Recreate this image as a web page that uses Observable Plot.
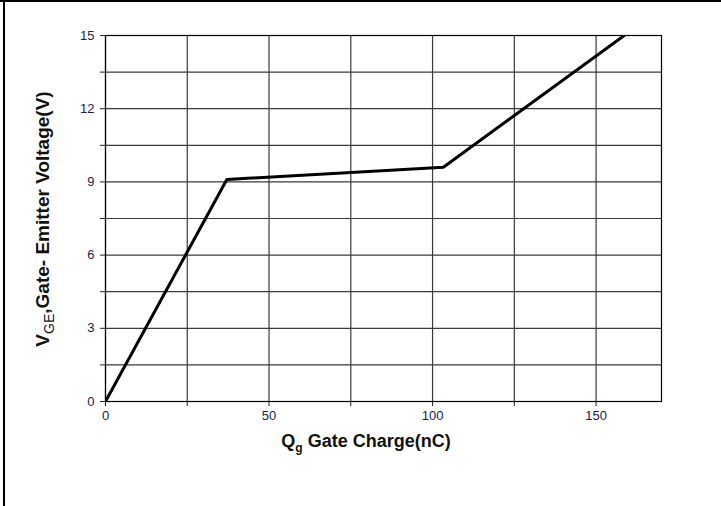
<!DOCTYPE html>
<html>
<head>
<meta charset="utf-8">
<script src="https://cdn.jsdelivr.net/npm/d3@7"></script>
<script src="https://cdn.jsdelivr.net/npm/@observablehq/plot@0.6"></script>
<style>
  html, body { margin: 0; padding: 0; background: #fff; }
  #wrap { position: relative; width: 721px; height: 506px; overflow: hidden; }
  #bt { position: absolute; left: 0; top: 0; width: 721px; height: 2px; background: #000; }
  #bl { position: absolute; left: 3px; top: 0; width: 2px; height: 506px; background: #000; }
</style>
</head>
<body>
<div id="wrap"><div id="chart"></div><div id="bt"></div><div id="bl"></div></div>
<script>
// Gate charge curve (nC, V)
const qg  = [0, 37.1, 103.3, 158.6];
const vge = [0, 9.1, 9.6, 15];
// grid / tick positions
const xGrid = [0, 25, 50, 75, 100, 125, 150];
const yGrid = [0, 1.5, 3, 4.5, 6, 7.5, 9, 10.5, 12, 13.5, 15];
// labelled ticks
const xLabels = [0, 50, 100, 150];
const yLabels = [0, 3, 6, 9, 12, 15];

const data = qg.map((q, i) => ({q, v: vge[i]}));

const chart = Plot.plot({
  width: 721,
  height: 506,
  marginLeft: 105,
  marginRight: 60,
  marginTop: 35,
  marginBottom: 105,
  style: {background: "transparent", overflow: "visible"},
  x: {domain: [0, 170]},
  y: {domain: [0, 15]},
  marks: [
    Plot.ruleX(xGrid, {stroke: "#3a3a3a", strokeWidth: 1.2, strokeOpacity: 1}),
    Plot.ruleY(yGrid, {stroke: "#3a3a3a", strokeWidth: 1.2, strokeOpacity: 1}),
    Plot.frame({stroke: "#000", strokeWidth: 1.2}),
    Plot.axisX(xGrid, {tickSize: 5, tickPadding: 4, stroke: "#222", label: null,
      tickFormat: d => xLabels.includes(d) ? String(d) : ""}),
    Plot.axisY(yGrid, {tickSize: 5, tickPadding: 6, stroke: "#222", label: null,
      tickFormat: d => yLabels.includes(d) ? String(d) : ""}),
    Plot.line(data, {x: "q", y: "v", stroke: "#000", strokeWidth: 3, clip: true})
  ]
});
document.getElementById("chart").appendChild(chart);

const svg = d3.select(chart);
// restyle the tick labels
svg.selectAll("text")
  .style("font-size", "13px")
  .style("font-family", "'Liberation Sans Narrow', 'Arial Narrow', 'Liberation Sans', sans-serif")
  .style("fill", "#1c1c4c");

const titleFont = "'Liberation Sans', Arial, sans-serif";

// X axis title with subscript
const xt = svg.append("text")
  .attr("x", 366).attr("y", 447)
  .attr("text-anchor", "middle")
  .style("font-family", titleFont)
  .attr("font-weight", "bold").attr("font-size", 18).attr("fill", "#111");
xt.append("tspan").text("Q");
xt.append("tspan").attr("font-size", 12).attr("dy", 5).text("g");
xt.append("tspan").attr("dy", -5).text(" Gate Charge(nC)");

// Y axis title with subscript
const yt = svg.append("text")
  .attr("transform", "translate(49,219) rotate(-90)")
  .attr("text-anchor", "middle")
  .style("font-family", titleFont)
  .attr("font-weight", "bold").attr("font-size", 19).attr("fill", "#111");
yt.append("tspan").text("V");
yt.append("tspan").attr("font-size", 14).attr("font-weight", "normal").attr("dy", 5).text("GE");
yt.append("tspan").attr("dy", -5).text(",Gate- Emitter Voltage(V)");
</script>
</body>
</html>
